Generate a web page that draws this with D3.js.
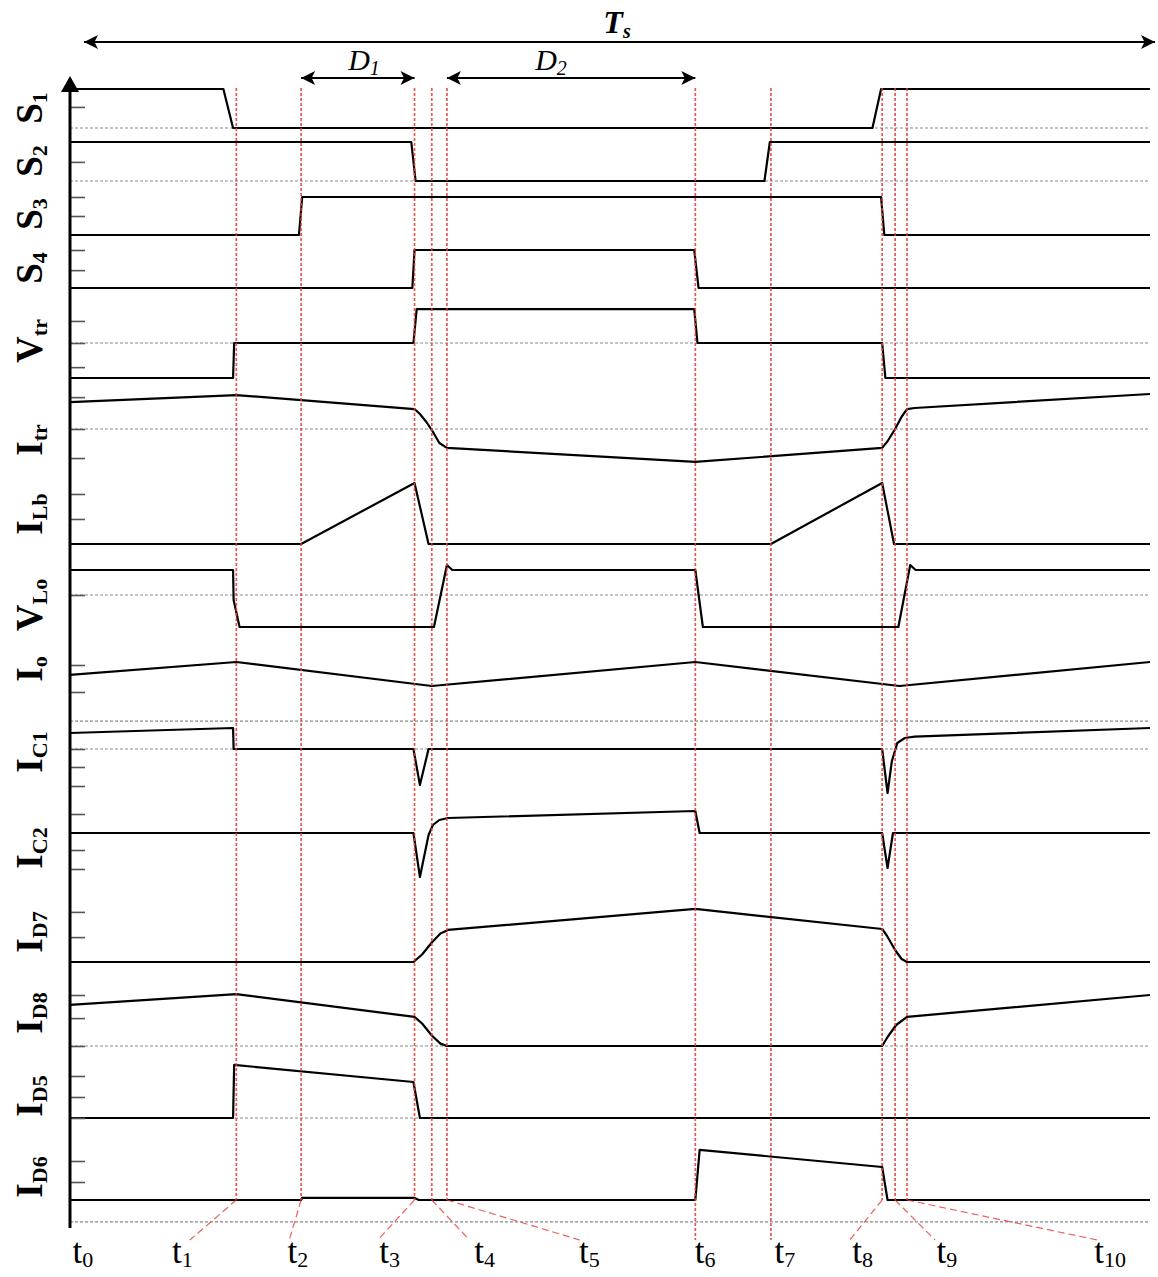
<!DOCTYPE html>
<html>
<head>
<meta charset="utf-8">
<script src="https://cdn.jsdelivr.net/npm/d3@7"></script>
<style>
  body { margin: 0; background: #fff; }
</style>
</head>
<body>
<div id="chart"></div>
<script>
// switching instants t0..t10, in % of Ts
var eventTimes = [0, 15.4, 21.4, 31.9, 33.5, 34.9, 57.9, 64.9, 75.2, 76.4, 77.5];
var eventNames = ['0', '1', '2', '3', '4', '5', '6', '7', '8', '9', '10'];

// waveforms: [time (% of Ts), level]
var s1  = [[0,1],[14.2,1],[15.1,0],[74.3,0],[75.1,1],[100,1]];
var s2  = [[0,1],[31.6,1],[32.0,0],[64.3,0],[64.8,1],[100,1]];
var s3  = [[0,0],[21.2,0],[21.5,1],[75.1,1],[75.4,0],[100,0]];
var s4  = [[0,0],[31.7,0],[31.9,1],[57.8,1],[58.2,0],[100,0]];
var vtr = [[0,0],[15.1,0],[15.2,1],[31.8,1],[32.1,1.97],[57.8,1.97],[58.1,1],[75.2,1],[75.5,0],[100,0]];
var itr = [[0,0.77],[15.4,0.97],[31.9,0.57],[32.4,0.43],[33.0,0.2],[33.5,-0.03],[34.2,-0.4],[34.9,-0.54],
           [57.9,-0.94],[75.2,-0.54],[75.7,-0.35],[76.4,0],[77.0,0.35],[77.5,0.57],[78.2,0.6],[100,1.0]];
var ilb = [[0,0],[21.4,0],[31.9,1],[33.2,0],[64.9,0],[75.2,1],[76.3,0],[100,0]];
var vlo = [[0,1],[15.1,1],[15.15,-0.2],[15.7,-1.28],[33.7,-1.28],[34.9,1.2],[35.4,1],[57.9,1],[58.6,-1.28],
           [76.7,-1.28],[77.8,1.2],[78.3,1],[100,1]];
var io  = [[0,0.57],[15.4,1],[33.5,0.2],[57.9,1],[76.8,0.2],[100,1]];
var ic1 = [[0,0.8],[15.1,1.05],[15.15,0],[31.8,0],[32.4,-1.8],[33.2,0],[75.2,0],[75.7,-2.2],[76.1,-0.6],
           [76.6,0.3],[77.3,0.55],[78.2,0.62],[100,1.05]];
var ic2 = [[0,0],[31.8,0],[32.4,-2.2],[33.2,-0.1],[33.6,0.4],[34.2,0.65],[35.0,0.75],[57.9,1.1],[58.3,0],
           [75.2,0],[75.7,-1.75],[76.2,0],[100,0]];
var id7 = [[0,0],[31.8,0],[32.6,0.25],[33.5,0.65],[34.3,0.95],[35.0,1.07],[57.9,1.77],[75.2,1.1],[75.6,0.9],
           [76.4,0.4],[77.0,0.1],[77.5,0],[100,0]];
var id8 = [[0,1.37],[15.4,1.73],[31.9,0.97],[32.6,0.75],[33.5,0.35],[34.3,0.08],[34.9,0],[75.2,0],[75.7,0.3],
           [76.5,0.7],[77.5,0.97],[100,1.7]];
var id5 = [[0,0],[15.1,0],[15.2,1.77],[31.8,1.2],[32.4,0],[100,0]];
var id6 = [[0,0],[21.4,0],[21.5,0.07],[31.9,0.07],[32.3,0],[57.9,0],[58.3,1.67],[75.2,1.1],[75.7,0],[100,0]];

var signalNames = ['S','S','S','S','V','I','I','V','I','I','I','I','I','I','I'];
var signalSubs  = ['1','2','3','4','tr','tr','Lb','Lo','o','C1','C2','D7','D8','D5','D6'];
var signalData  = [s1, s2, s3, s4, vtr, itr, ilb, vlo, io, ic1, ic2, id7, id8, id5, id6];
var tickLevels  = [[0.54],[0.49],[0.5,1],[0.47,1],[0.31,1,1.63],[0.91,0,-0.83],[0.41,0.82],[0],[0.9,0],
                   [0,-0.9,-1.85],[0.95,-0.85,-1.8],[1.67,0.83],[1.7,0.93,0],[1.4,0.7,0],[1.3,0.6]];
var refLevels   = [[0],[0],[],[],[1],[0],[],[0],[-0.97],[0],[],[],[0],[0],[-0.73]];

// layout of each trace: zero line, pixels per unit, label centre
var panelBase   = [128, 181, 235, 288, 378, 429, 544, 595, 692, 749, 833, 962, 1046, 1118, 1200];
var panelAmp    = [39, 39, 38, 38, 35, 35, 61, 25, 30, 20, 20, 30, 30, 30, 30];
var panelLabelY = [108, 161, 214, 268, 341, 440, 514, 605, 669, 752, 848, 932, 1013, 1096, 1177];

// time label placement (in % of Ts)
var tLabelPos   = [1.2, 10.4, 21.1, 29.6, 38.4, 48.1, 58.8, 66.2, 73.4, 81.2, 96.3];
var leaderEnd   = [0, 11.1, 20.3, 28.5, 37.0, 47.2, 57.9, 64.9, 72.2, 80.1, 95.1];

var width = 1158, height = 1277;
var axisX = 70, redTop = 88, redBottom = 1200, leaderY = 1240;

var x = d3.scaleLinear().domain([0, 100]).range([70, 1150]);

var svg = d3.select('#chart').append('svg')
    .attr('width', width)
    .attr('height', height)
    .style('font-family', '"Liberation Serif", "DejaVu Serif", serif');

var defs = svg.append('defs');
defs.append('marker')
    .attr('id', 'arrow')
    .attr('viewBox', '0 0 10 10')
    .attr('refX', 10).attr('refY', 5)
    .attr('markerUnits', 'userSpaceOnUse')
    .attr('markerWidth', 24).attr('markerHeight', 14)
    .attr('orient', 'auto-start-reverse')
  .append('path')
    .attr('d', 'M0,0 L10,5 L0,10 L2.5,5 z')
    .attr('fill', '#000');

var panels = signalData.map(function(d, i) {
    return {
        name: signalNames[i], sub: signalSubs[i], data: d,
        ticks: tickLevels[i], refs: refLevels[i],
        y: d3.scaleLinear().domain([0, 1]).range([panelBase[i], panelBase[i] - panelAmp[i]]),
        labelY: panelLabelY[i]
    };
});

// gray dotted reference lines
panels.forEach(function(p) {
    svg.selectAll(null)
        .data(p.refs)
        .enter().append('line')
        .attr('x1', axisX).attr('x2', x(100))
        .attr('y1', function(v) { return p.y(v); })
        .attr('y2', function(v) { return p.y(v); })
        .attr('stroke', '#8a8a8a')
        .attr('stroke-width', 1.2)
        .attr('stroke-dasharray', '3,2');
});

// waveforms
var line = d3.line()
    .x(function(d) { return x(d[0]); });

panels.forEach(function(p) {
    svg.append('path')
        .datum(p.data)
        .attr('d', line.y(function(d) { return p.y(d[1]); }))
        .attr('fill', 'none')
        .attr('stroke', '#000')
        .attr('stroke-width', 2.2)
        .attr('stroke-linejoin', 'round');
});

// small ticks on the left axis
panels.forEach(function(p) {
    var ax = d3.axisRight(p.y)
        .tickValues(p.ticks)
        .tickSize(15)
        .tickFormat('');
    var g = svg.append('g')
        .attr('transform', 'translate(' + axisX + ',0)')
        .call(ax);
    g.select('.domain').remove();
    g.selectAll('.tick line').attr('stroke', '#555').attr('stroke-width', 1.6);
});

// vertical axis with arrow
svg.append('line')
    .attr('x1', axisX).attr('x2', axisX)
    .attr('y1', 88).attr('y2', 1228)
    .attr('stroke', '#000').attr('stroke-width', 3);
svg.append('path')
    .attr('d', 'M' + (axisX - 9) + ',92 L' + axisX + ',76 L' + (axisX + 9) + ',92 Z')
    .attr('fill', '#000');

// red dashed instants
var ev = eventTimes.slice(1);
svg.selectAll('.instant')
    .data(ev)
    .enter().append('line')
    .attr('class', 'instant')
    .attr('x1', function(d) { return x(d); })
    .attr('x2', function(d) { return x(d); })
    .attr('y1', redTop)
    .attr('y2', function(d, i) { return (i === 5 || i === 6) ? leaderY : redBottom; })
    .attr('stroke', '#e53935')
    .attr('stroke-opacity', 0.85)
    .attr('stroke-width', 1.7)
    .attr('stroke-dasharray', '3,2');

// leaders to the time labels
svg.selectAll('.leader')
    .data(ev)
    .enter().append('line')
    .attr('class', 'leader')
    .attr('x1', function(d) { return x(d); })
    .attr('y1', redBottom)
    .attr('x2', function(d, i) { return x(leaderEnd[i + 1]); })
    .attr('y2', leaderY)
    .attr('stroke', '#e53935')
    .attr('stroke-opacity', 0.8)
    .attr('stroke-width', 1.2)
    .attr('stroke-dasharray', '7,4')
    .style('display', function(d, i) { return (i === 5 || i === 6) ? 'none' : null; });

// time labels
var tl = svg.selectAll('.tlabel')
    .data(eventNames)
    .enter().append('text')
    .attr('class', 'tlabel')
    .attr('x', function(d, i) { return x(tLabelPos[i]); })
    .attr('y', 1263)
    .attr('text-anchor', 'middle')
    .attr('font-size', '35px');
tl.append('tspan').text('t');
tl.append('tspan').attr('font-size', '22px').attr('dy', 4).text(function(d) { return d; });

// signal labels (rotated)
panels.forEach(function(p) {
    var t = svg.append('text')
        .attr('transform', 'translate(42,' + p.labelY + ') rotate(-90)')
        .attr('text-anchor', 'middle')
        .attr('font-size', '37px')
        .attr('font-weight', 'bold');
    t.append('tspan').text(p.name);
    t.append('tspan').attr('font-size', '22px').attr('dy', 5).text(p.sub);
});

// Ts, D1, D2 arrows
var spans = [
    {x1: 84, x2: 1155, y: 42},
    {x1: x(eventTimes[2]), x2: x(eventTimes[3]), y: 78},
    {x1: x(eventTimes[5]), x2: x(eventTimes[6]), y: 78}
];
svg.selectAll('.span')
    .data(spans)
    .enter().append('line')
    .attr('class', 'span')
    .attr('x1', function(d) { return d.x1; })
    .attr('x2', function(d) { return d.x2; })
    .attr('y1', function(d) { return d.y; })
    .attr('y2', function(d) { return d.y; })
    .attr('stroke', '#000')
    .attr('stroke-width', 2)
    .attr('marker-start', 'url(#arrow)')
    .attr('marker-end', 'url(#arrow)');

var spanLabels = [
    {main: 'T', sub: 's', x: 617, y: 33, size: 32},
    {main: 'D', sub: '1', x: 364, y: 70, size: 30},
    {main: 'D', sub: '2', x: 551, y: 70, size: 30}
];
spanLabels.forEach(function(s) {
    var t = svg.append('text')
        .attr('x', s.x).attr('y', s.y)
        .attr('text-anchor', 'middle')
        .attr('font-style', 'italic')
        .attr('font-size', s.size + 'px')
        .attr('font-weight', s.main === 'T' ? 'bold' : 'normal');
    t.append('tspan').text(s.main);
    t.append('tspan').attr('font-size', '20px').attr('dy', 5).text(s.sub);
});
</script>
</body>
</html>
